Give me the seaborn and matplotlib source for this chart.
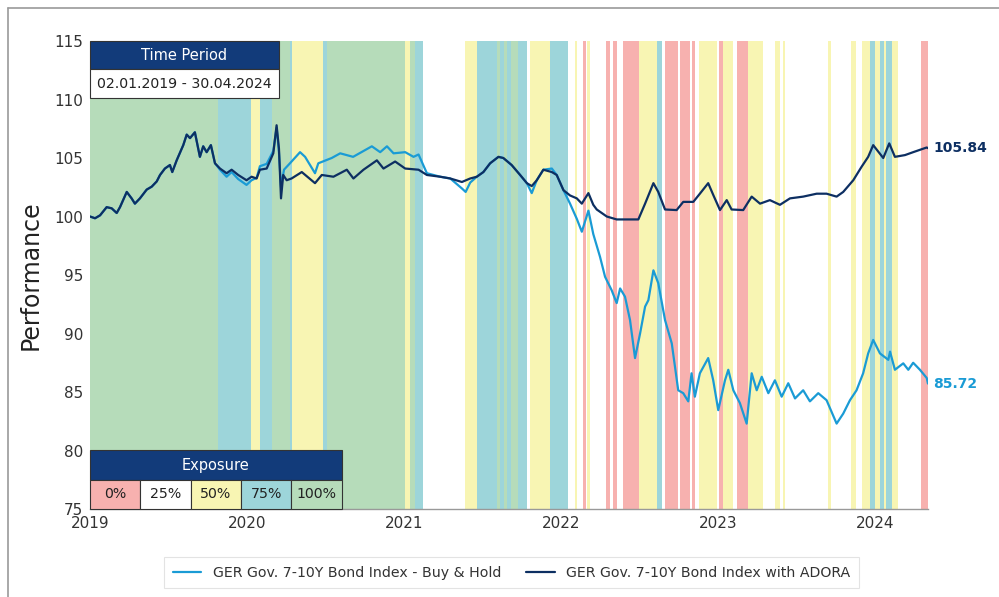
import numpy as np
import pandas as pd
import matplotlib
matplotlib.use("Agg")
import matplotlib.pyplot as plt
import matplotlib.dates as mdates
from matplotlib.patches import Rectangle
from matplotlib.lines import Line2D
import seaborn as sns

# ---------------------------------------------------------------------------
# Data (decimal years)
# ---------------------------------------------------------------------------
SHARED_T = [2019.000, 2019.032, 2019.064, 2019.106, 2019.138, 2019.170, 2019.191,
            2019.234, 2019.265, 2019.286, 2019.318, 2019.361, 2019.393, 2019.425,
            2019.446, 2019.477, 2019.509, 2019.524, 2019.552, 2019.594, 2019.616,
            2019.637, 2019.668, 2019.700, 2019.721, 2019.743, 2019.770, 2019.796]
SHARED_V = [100.0, 99.85, 100.1, 100.8, 100.7, 100.3, 100.8,
            102.1, 101.55, 101.1, 101.55, 102.3, 102.55, 103.0,
            103.55, 104.1, 104.4, 103.8, 104.8, 106.1, 107.0,
            106.7, 107.2, 105.1, 106.0, 105.5, 106.1, 104.55]

ADORA_T = [2019.828, 2019.870, 2019.902, 2019.944, 2019.997, 2020.029, 2020.061,
           2020.082, 2020.125, 2020.167, 2020.188, 2020.203, 2020.216, 2020.230,
           2020.252, 2020.283, 2020.348, 2020.432, 2020.475, 2020.549, 2020.634,
           2020.676, 2020.740, 2020.825, 2020.867, 2020.941, 2021.005, 2021.090,
           2021.143, 2021.228, 2021.292, 2021.366, 2021.419, 2021.461, 2021.503,
           2021.546, 2021.599, 2021.630, 2021.683, 2021.737, 2021.780, 2021.811,
           2021.843, 2021.885, 2021.939, 2021.970, 2022.013, 2022.055, 2022.098,
           2022.130, 2022.172, 2022.203, 2022.225, 2022.289, 2022.352, 2022.490,
           2022.533, 2022.586, 2022.617, 2022.660, 2022.734, 2022.776, 2022.840,
           2022.882, 2022.935, 2022.967, 2023.010, 2023.053, 2023.084, 2023.158,
           2023.212, 2023.265, 2023.328, 2023.392, 2023.456, 2023.540, 2023.626,
           2023.689, 2023.753, 2023.795, 2023.859, 2023.912, 2023.954, 2023.986,
           2024.050, 2024.088, 2024.124, 2024.188, 2024.240, 2024.326, 2024.334]
ADORA_V = [104.1, 103.7, 104.0, 103.55, 103.1, 103.4, 103.25,
           104.0, 104.1, 105.4, 107.8, 105.8, 101.55, 103.55,
           103.1, 103.25, 103.8, 102.85, 103.55, 103.4, 104.0,
           103.25, 104.0, 104.8, 104.1, 104.7, 104.1, 104.0,
           103.55, 103.4, 103.25, 102.95, 103.25, 103.4, 103.8,
           104.55, 105.1, 105.0, 104.4, 103.55, 102.85, 102.6,
           103.1, 104.0, 103.8, 103.55, 102.25, 101.8, 101.55,
           101.1, 102.0, 101.0, 100.6, 100.0, 99.75, 99.75,
           101.1, 102.85, 102.1, 100.6, 100.55, 101.25, 101.25,
           101.95, 102.85, 101.85, 100.55, 101.4, 100.6, 100.55,
           101.7, 101.1, 101.4, 101.0, 101.55, 101.7, 101.95,
           101.95, 101.7, 102.1, 103.1, 104.25, 105.1, 106.1,
           105.0, 106.25, 105.1, 105.25, 105.5, 105.9, 105.84]

BH_T = [2019.828, 2019.870, 2019.902, 2019.944, 2019.997, 2020.029, 2020.061,
        2020.082, 2020.125, 2020.167, 2020.188, 2020.203, 2020.216, 2020.235,
        2020.273, 2020.337, 2020.369, 2020.432, 2020.453, 2020.538, 2020.592,
        2020.674, 2020.793, 2020.846, 2020.889, 2020.931, 2021.005, 2021.058,
        2021.090, 2021.143, 2021.228, 2021.292, 2021.366, 2021.390, 2021.419,
        2021.461, 2021.503, 2021.546, 2021.599, 2021.630, 2021.683, 2021.737,
        2021.780, 2021.811, 2021.843, 2021.885, 2021.939, 2021.970, 2022.013,
        2022.055, 2022.098, 2022.130, 2022.172, 2022.203, 2022.246, 2022.278,
        2022.320, 2022.352, 2022.374, 2022.405, 2022.437, 2022.469, 2022.501,
        2022.533, 2022.554, 2022.586, 2022.617, 2022.660, 2022.703, 2022.744,
        2022.776, 2022.808, 2022.829, 2022.850, 2022.882, 2022.935, 2022.967,
        2022.999, 2023.042, 2023.063, 2023.095, 2023.137, 2023.180, 2023.212,
        2023.244, 2023.276, 2023.318, 2023.360, 2023.403, 2023.445, 2023.488,
        2023.540, 2023.583, 2023.636, 2023.689, 2023.753, 2023.795, 2023.838,
        2023.880, 2023.922, 2023.954, 2023.986, 2024.029, 2024.082, 2024.093,
        2024.124, 2024.177, 2024.209, 2024.240, 2024.283, 2024.326, 2024.334]
BH_V = [104.0, 103.4, 103.8, 103.2, 102.7, 103.1, 103.3,
        104.3, 104.5, 105.6, 107.6, 105.5, 102.5, 104.0,
        104.55, 105.5, 105.1, 103.7, 104.55, 105.0, 105.4,
        105.1, 106.0, 105.5, 106.0, 105.4, 105.5, 105.1,
        105.3, 103.7, 103.4, 103.25, 102.4, 102.1, 102.9,
        103.4, 103.8, 104.55, 105.1, 105.0, 104.4, 103.55,
        102.85, 102.0, 103.1, 104.0, 104.1, 103.55, 102.25,
        101.1, 99.8, 98.7, 100.5, 98.5, 96.55, 94.85,
        93.7, 92.6, 93.85, 93.15, 91.15, 87.9, 90.0,
        92.3, 92.85, 95.4, 94.3, 91.15, 89.15, 85.15,
        84.9, 84.2, 86.6, 84.6, 86.6, 87.9, 86.0,
        83.45, 86.0, 86.9, 85.15, 84.05, 82.3, 86.6,
        85.15, 86.3, 84.9, 86.0, 84.6, 85.75, 84.45,
        85.15, 84.2, 84.9, 84.3, 82.3, 83.15, 84.3,
        85.15, 86.6, 88.3, 89.45, 88.3, 87.75, 88.45,
        86.9, 87.45, 86.9, 87.5, 86.9, 86.2, 85.72]

# Exposure regimes: start of each regime and exposure level (%)
REGIME_T = [2019.000, 2019.815, 2020.025, 2020.082, 2020.158, 2020.273, 2020.286,
            2020.483, 2020.509, 2021.005, 2021.037, 2021.069, 2021.120, 2021.387,
            2021.463, 2021.591, 2021.610, 2021.635, 2021.654, 2021.680, 2021.724,
            2021.782, 2021.801, 2021.928, 2022.043, 2022.087, 2022.100, 2022.138,
            2022.157, 2022.164, 2022.183, 2022.285, 2022.310, 2022.329, 2022.355,
            2022.393, 2022.495, 2022.609, 2022.641, 2022.660, 2022.743, 2022.756,
            2022.819, 2022.832, 2022.851, 2022.876, 2022.991, 2023.004, 2023.029,
            2023.093, 2023.118, 2023.188, 2023.284, 2023.360, 2023.392, 2023.411,
            2023.424, 2023.698, 2023.717, 2023.844, 2023.876, 2023.914, 2023.965,
            2023.997, 2024.029, 2024.054, 2024.067, 2024.105, 2024.143, 2024.290]
REGIME_LEVEL = [100, 75, 50, 75, 100, 75, 50,
                75, 100, 50, 100, 75, 25, 50,
                75, 100, 75, 100, 75, 100, 75,
                25, 50, 75, 25, 50, 25, 0,
                25, 50, 25, 0, 25, 0, 25,
                0, 50, 75, 25, 0, 25, 0,
                25, 0, 25, 50, 25, 0, 50,
                25, 0, 50, 25, 50, 25, 50,
                25, 50, 25, 50, 25, 50, 75,
                50, 75, 50, 75, 50, 25, 0]
PERIOD_END = 2024.334

EXPOSURE_LEVELS = [0, 25, 50, 75, 100]
EXPOSURE_COLORS = {0: "#f7b1af", 25: "#ffffff", 50: "#f8f5b3",
                   75: "#9dd5da", 100: "#b6dcba"}

BH_LABEL = "GER Gov. 7-10Y Bond Index - Buy & Hold"
ADORA_LABEL = "GER Gov. 7-10Y Bond Index with ADORA"
BH_COLOR = "#1a9bd5"
ADORA_COLOR = "#0d2f62"
HEADER_COLOR = "#123b7a"


def to_date(t):
    """Decimal year -> Timestamp."""
    year = int(np.floor(t))
    start = pd.Timestamp(year=year, month=1, day=1)
    days = (pd.Timestamp(year=year + 1, month=1, day=1) - start).days
    return start + pd.Timedelta(days=(t - year) * days)


sns.set_style("whitegrid")
plt.rcParams["font.family"] = ["DejaVu Sans"]

fig = plt.figure(figsize=(9.99, 5.97), dpi=100)
ax = fig.add_axes([0.0901, 0.1474, 0.8388, 0.7839])

# ---- exposure bands ----
bounds = REGIME_T + [PERIOD_END]
for i, lvl in enumerate(REGIME_LEVEL):
    ax.axvspan(to_date(bounds[i]), to_date(bounds[i + 1]),
               color=EXPOSURE_COLORS[lvl], lw=0, zorder=1)

# ---- lines ----
bh_dates = [to_date(t) for t in SHARED_T + BH_T]
ad_dates = [to_date(t) for t in SHARED_T + ADORA_T]
sns.lineplot(x=bh_dates, y=SHARED_V + BH_V, ax=ax, color=BH_COLOR,
             linewidth=1.6, label=BH_LABEL, zorder=3)
sns.lineplot(x=ad_dates, y=SHARED_V + ADORA_V, ax=ax, color=ADORA_COLOR,
             linewidth=1.6, label=ADORA_LABEL, zorder=4)

# end labels
ax.annotate(f"{ADORA_V[-1]:.2f}", (ad_dates[-1], ADORA_V[-1]), xytext=(4, 0),
            textcoords="offset points", va="center", ha="left",
            fontsize=10, fontweight="bold", color=ADORA_COLOR, annotation_clip=False)
ax.annotate(f"{BH_V[-1]:.2f}", (bh_dates[-1], BH_V[-1]), xytext=(4, 0),
            textcoords="offset points", va="center", ha="left",
            fontsize=10, fontweight="bold", color=BH_COLOR, annotation_clip=False)

# ---- axes ----
ax.set_xlim(to_date(2019.0), to_date(PERIOD_END))
ax.set_ylim(75, 115)
ax.set_yticks(np.arange(75, 116, 5))
ax.xaxis.set_major_locator(mdates.YearLocator())
ax.xaxis.set_major_formatter(mdates.DateFormatter("%Y"))
ax.tick_params(axis="both", labelsize=11, colors="#333333", length=3,
               color="#999999", width=0.8, pad=2)
ax.set_ylabel("Performance", fontsize=17, color="#222222", labelpad=8)
ax.set_xlabel("")
ax.grid(True, color="#eeeeee", lw=0.8)
ax.set_axisbelow(True)
for side in ("top", "right", "left"):
    ax.spines[side].set_visible(False)
ax.spines["bottom"].set_color("#999999")
ax.spines["bottom"].set_linewidth(1.0)
ax.spines["bottom"].set_zorder(6)

# ---- time period box ----
tp_w = 0.2255
ax.add_patch(Rectangle((0, 0.940), tp_w, 0.060, transform=ax.transAxes,
                       facecolor=HEADER_COLOR, edgecolor="#333333", lw=0.8,
                       zorder=7, clip_on=False))
ax.add_patch(Rectangle((0, 0.878), tp_w, 0.062, transform=ax.transAxes,
                       facecolor="white", edgecolor="#333333", lw=0.8,
                       zorder=7, clip_on=False))
ax.text(tp_w / 2, 0.970, "Time Period", transform=ax.transAxes, ha="center",
        va="center", color="white", fontsize=10.5, zorder=8)
ax.text(tp_w / 2, 0.909, "02.01.2019 - 30.04.2024", transform=ax.transAxes,
        ha="center", va="center", color="#222222", fontsize=10.2, zorder=8)

# ---- exposure legend table ----
cell_w = 0.0601
ax.add_patch(Rectangle((0, 0.062), cell_w * 5, 0.064, transform=ax.transAxes,
                       facecolor=HEADER_COLOR, edgecolor="#333333", lw=0.8,
                       zorder=7, clip_on=False))
ax.text(cell_w * 2.5, 0.094, "Exposure", transform=ax.transAxes, ha="center",
        va="center", color="white", fontsize=10.5, zorder=8)
for i, lvl in enumerate(EXPOSURE_LEVELS):
    ax.add_patch(Rectangle((i * cell_w, 0.0), cell_w, 0.062, transform=ax.transAxes,
                           facecolor=EXPOSURE_COLORS[lvl], edgecolor="#333333",
                           lw=0.8, zorder=7, clip_on=False))
    ax.text((i + 0.5) * cell_w, 0.031, f"{lvl}%", transform=ax.transAxes,
            ha="center", va="center", color="#222222", fontsize=10.2, zorder=8)

# ---- legend ----
leg = ax.legend(loc="upper center", bbox_to_anchor=(0.503, -0.088), ncol=2,
                fontsize=10.2, frameon=True, fancybox=False, columnspacing=1.8,
                handlelength=2.0, borderpad=0.6)
leg.get_frame().set_edgecolor("#dddddd")
leg.get_frame().set_linewidth(0.8)
for txt in leg.get_texts():
    txt.set_color("#333333")

# ---- outer frame (top and left) ----
fy = 1 - 8 / 597
fx = 8 / 999
fig.add_artist(Line2D([fx, 1.0], [fy, fy], transform=fig.transFigure,
                      color="#9a9a9a", lw=1.2))
fig.add_artist(Line2D([fx, fx], [0.0, fy], transform=fig.transFigure,
                      color="#9a9a9a", lw=1.2))

fig.savefig("out.png", dpi=100, facecolor="white")
